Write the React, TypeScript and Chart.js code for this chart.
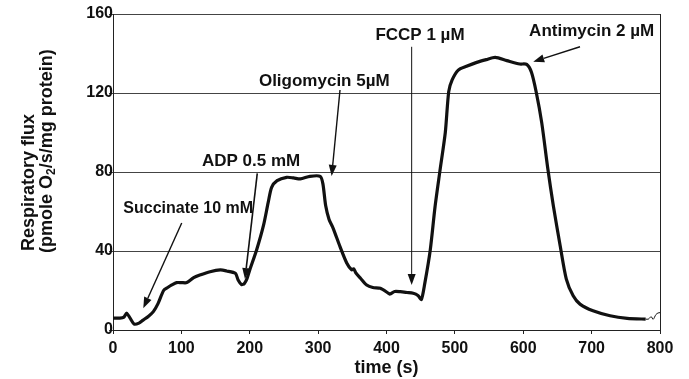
import React, { useEffect, useRef } from 'react';
import { Chart, registerables } from 'chart.js';

Chart.register(...registerables);

// ---- Data ----
const timeS = [
  0, 10, 16, 20, 25, 31, 38, 44, 52, 59, 66, 74, 80, 86, 93, 100, 108, 118, 127, 142,
  157, 166, 179, 183, 188, 192, 196, 200, 210, 220, 227, 232, 240, 254, 264, 274, 288, 303, 307, 311,
  316, 322, 332, 342, 349, 352, 355, 362, 371, 380, 391, 403, 405, 412, 420, 430, 439, 446, 451, 456, 464,
  471, 478, 486, 491, 496, 505, 517, 532, 546, 559, 576, 595, 605, 612, 619, 627, 636, 644, 654, 663,
  673, 683, 702, 727, 752, 779, 783, 787, 790, 794, 797, 800,
];
const fluxValues = [
  6, 6, 6.5, 8.5, 6, 3, 3.5, 5, 7, 9.3, 13.5, 20, 21.5, 22.8, 24, 24, 24, 26.5, 27.8, 29.5,
  30.4, 29.9, 28.7, 25.3, 23, 23.5, 26, 30.4, 40.5, 52.8, 64.6, 72.2, 75.6, 77.3, 77, 76.5, 77.8, 77.8, 74, 63,
  56, 51.5, 42.2, 33.8, 30.5, 31, 29, 26.2, 22.8, 21.5, 21.1, 18.6, 18.2, 19.5, 19.4, 19, 18.6, 17.5, 15.5, 23.6, 40.5,
  62.4, 80.2, 100, 120.7, 126.6, 131.6, 133.5, 135.5, 136.9, 138, 136.4, 134.7, 134.5, 130.5, 120.4, 105, 81.5, 62.9, 42.7, 25.8,
  17.3, 13.1, 9.7, 7.2, 5.9, 5.5, 5.5, 6.8, 5.4, 7.8, 8.6, 8.8,
];
const thinTailStart = 779;

const xTickValues = [0, 100, 200, 300, 400, 500, 600, 700, 800];
const yTickValues = [0, 40, 80, 120, 160];

// Annotations (in data units: time, flux)
const annotationTexts = ['Succinate 10 mM', 'ADP 0.5 mM', 'Oligomycin 5\u00B5M', 'FCCP 1 \u00B5M', 'Antimycin 2 \u00B5M'];
const annotationTextX = [110, 202, 309, 449, 700];
const annotationTextY = [61.3, 85.2, 125.7, 149.4, 151];
const arrowFromX = [100.5, 211, 332, 436.8, 683];
const arrowFromY = [54.2, 79.3, 121.5, 143.4, 143.4];
const arrowToX = [44.3, 193, 319.8, 436.8, 614.6];
const arrowToY = [11, 25.8, 78, 22.8, 135.8];

const FONT = '"Liberation Sans", Arial, Helvetica, sans-serif';
const INK = '#111111';

const annotationSizes = [16, 17, 17, 17, 17];
const arrowWidths = [1.4, 1.6, 1.4, 1, 1.4];

const annotationPlugin = {
  id: 'annotationArrows',
  afterDatasetsDraw(chart: any) {
    const { ctx, scales } = chart;
    const xs = scales.x;
    const ys = scales.y;
    ctx.save();
    for (let i = 0; i < annotationTexts.length; i++) {
      ctx.fillStyle = INK;
      ctx.font = `bold ${annotationSizes[i]}px ${FONT}`;
      ctx.textAlign = 'center';
      ctx.textBaseline = 'middle';
      ctx.fillText(annotationTexts[i], xs.getPixelForValue(annotationTextX[i]), ys.getPixelForValue(annotationTextY[i]));
      const x0 = xs.getPixelForValue(arrowFromX[i]);
      const y0 = ys.getPixelForValue(arrowFromY[i]);
      const x1 = xs.getPixelForValue(arrowToX[i]);
      const y1 = ys.getPixelForValue(arrowToY[i]);
      const ang = Math.atan2(y1 - y0, x1 - x0);
      const headLen = 11;
      const headHalf = 4;
      const bx = x1 - headLen * Math.cos(ang);
      const by = y1 - headLen * Math.sin(ang);
      ctx.strokeStyle = INK;
      ctx.lineWidth = arrowWidths[i];
      ctx.beginPath();
      ctx.moveTo(x0, y0);
      ctx.lineTo(bx, by);
      ctx.stroke();
      ctx.beginPath();
      ctx.moveTo(x1, y1);
      ctx.lineTo(bx + headHalf * Math.sin(ang), by - headHalf * Math.cos(ang));
      ctx.lineTo(bx - headHalf * Math.sin(ang), by + headHalf * Math.cos(ang));
      ctx.closePath();
      ctx.fill();
    }
    ctx.restore();
  },
};

const framePlugin = {
  id: 'frameAndTitle',
  afterDraw(chart: any) {
    const { ctx, chartArea } = chart;
    ctx.save();
    ctx.strokeStyle = '#222';
    ctx.lineWidth = 1;
    ctx.beginPath();
    const r = Math.round(chartArea.right) + 0.5;
    ctx.moveTo(r, Math.round(chartArea.top));
    ctx.lineTo(r, Math.round(chartArea.bottom) + 1);
    ctx.stroke();

    // rotated y-axis title (two lines)
    ctx.fillStyle = INK;
    ctx.textBaseline = 'middle';
    ctx.textAlign = 'left';
    ctx.font = `bold 18px ${FONT}`;
    ctx.save();
    ctx.translate(29, 251);
    ctx.rotate(-Math.PI / 2);
    ctx.fillText('Respiratory flux', 0, 0);
    ctx.restore();

    ctx.save();
    ctx.translate(47, 253);
    ctx.rotate(-Math.PI / 2);
    const p1 = '(pmole O';
    const p2 = '2';
    const p3 = '/s/mg protein)';
    ctx.font = `bold 18px ${FONT}`;
    ctx.fillText(p1, 0, 0);
    const w1 = ctx.measureText(p1).width;
    ctx.font = `bold 12px ${FONT}`;
    ctx.fillText(p2, w1, 5);
    const w2 = ctx.measureText(p2).width;
    ctx.font = `bold 18px ${FONT}`;
    ctx.fillText(p3, w1 + w2, 0);
    ctx.restore();

    ctx.restore();
  },
};

export default function App() {
  const canvasRef = useRef<HTMLCanvasElement | null>(null);

  useEffect(() => {
    document.body.style.margin = '0';
    const canvas = canvasRef.current;
    if (!canvas) return;
    const points = timeS.map((t, i) => ({ x: t, y: fluxValues[i] }));
    const chart = new Chart(canvas, {
      type: 'line',
      data: {
        datasets: [
          {
            data: points,
            borderColor: INK,
            borderWidth: 3.2,
            pointRadius: 0,
            tension: 0.25,
            fill: false,
            segment: {
              borderWidth: (c: any) => (c.p0.parsed.x >= thinTailStart ? 1 : 3.2),
            },
          },
        ],
      },
      options: {
        responsive: false,
        animation: false,
        devicePixelRatio: 1,
        layout: { padding: { left: 0, right: 29, top: 14, bottom: 0 } },
        plugins: { legend: { display: false }, tooltip: { enabled: false }, title: { display: false } },
        scales: {
          x: {
            type: 'linear',
            min: 0,
            max: 800,
            afterBuildTicks: (s: any) => {
              s.ticks = xTickValues.map((v) => ({ value: v }));
            },
            ticks: { font: { family: FONT, size: 16, weight: 'bold' }, color: INK, padding: 5, maxRotation: 0 },
            grid: { drawOnChartArea: false, drawTicks: true, tickLength: 4, color: '#222' },
            border: { color: '#222', width: 1 },
            title: {
              display: true,
              text: 'time (s)',
              color: INK,
              font: { family: FONT, size: 18, weight: 'bold' },
              padding: { top: 0, bottom: 0 },
            },
            afterFit: (s: any) => {
              s.height = 49;
            },
          },
          y: {
            min: 0,
            max: 160,
            afterBuildTicks: (s: any) => {
              s.ticks = yTickValues.map((v) => ({ value: v }));
            },
            ticks: { font: { family: FONT, size: 16, weight: 'bold' }, color: INK, padding: -4 },
            grid: { color: '#444', lineWidth: 1, drawTicks: true, tickLength: 4 },
            border: { color: '#222', width: 1 },
            afterFit: (s: any) => {
              s.width = 113;
            },
          },
        },
      },
      plugins: [annotationPlugin, framePlugin],
    } as any);
    return () => chart.destroy();
  }, []);

  return (
    <div style={{ width: 689, height: 379, background: '#fff' }}>
      <canvas ref={canvasRef} width={689} height={379} style={{ display: 'block' }} />
    </div>
  );
}
